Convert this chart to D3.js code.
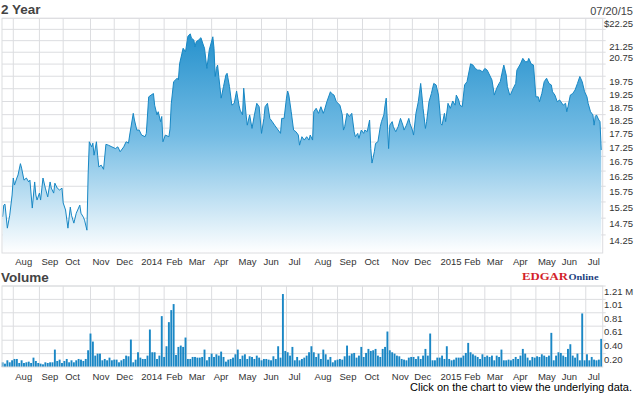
<!DOCTYPE html>
<html lang="en">

<head>
  <meta charset="UTF-8">
  <title>2 Year</title>
  <script src="https://cdnjs.cloudflare.com/ajax/libs/d3/7.8.5/d3.min.js"></script>
  <style>
    body { margin: 0; background: #fff; }
    svg { display: block; font-family: "Liberation Sans", Arial, sans-serif; }
  </style>
</head>

<body>
  <svg width="635" height="395"></svg>
  <script>
    // [trading session, close]
    var priceData = [
      [0, 14.79], [1, 15.15], [2, 15.18], [4, 14.45], [6, 14.84], [8, 15.47], [9, 16.02], [10, 15.79], [12, 16.02], [13, 16.12],
      [15, 16.50], [16, 16.35], [18, 15.95], [20, 16.02], [22, 15.89], [23, 15.95], [25, 15.06], [27, 15.89], [28, 15.47], [29, 15.31],
      [31, 15.53], [32, 15.31], [34, 16.02], [36, 15.69], [38, 15.41], [40, 15.89], [41, 15.69], [43, 15.53], [44, 15.85], [46, 15.69],
      [48, 15.63], [50, 15.69], [51, 15.22], [53, 15.00], [55, 14.45], [57, 15.09], [58, 14.84], [60, 14.60], [62, 14.90], [65, 15.15],
      [66, 14.90], [68, 14.78], [69, 14.69], [71, 14.39], [72, 16.12], [73, 17.26], [75, 17.08], [76, 17.21], [77, 16.79], [79, 17.26],
      [80, 16.79], [81, 16.39], [83, 16.45], [85, 16.31], [87, 17.17], [89, 17.14], [92, 17.08], [95, 17.02], [97, 17.08], [98, 17.00],
      [99, 16.91], [102, 17.08], [104, 17.26], [106, 17.21], [107, 17.50], [110, 18.30], [111, 18.05], [113, 17.68], [115, 17.68], [117, 17.50],
      [120, 17.44], [121, 17.56], [123, 18.93], [125, 19.00], [127, 19.06], [128, 18.61], [130, 18.24], [131, 18.36], [133, 17.99], [134, 18.18],
      [135, 17.26], [137, 17.50], [140, 17.44], [141, 17.74], [142, 18.66], [144, 19.53], [147, 19.67], [148, 19.60], [149, 20.26], [152, 20.92],
      [154, 20.77], [156, 21.44], [158, 21.55], [159, 21.36], [161, 21.28], [162, 20.98], [163, 21.20], [165, 21.28], [167, 21.38], [169, 21.06],
      [170, 20.92], [172, 20.07], [174, 20.85], [177, 21.42], [178, 20.92], [179, 19.74], [180, 20.07], [181, 20.21], [182, 19.74], [184, 18.88],
      [186, 19.34], [188, 19.80], [189, 19.87], [191, 19.34], [193, 18.61], [195, 18.68], [197, 19.16], [199, 18.61], [200, 18.42], [202, 18.24],
      [203, 19.27], [205, 18.24], [206, 17.86], [208, 18.24], [210, 17.74], [212, 18.24], [214, 18.68], [216, 18.55], [218, 17.56], [220, 18.11],
      [221, 18.55], [223, 18.68], [225, 18.11], [227, 17.99], [229, 17.86], [231, 17.74], [234, 17.56], [235, 18.11], [237, 18.11], [239, 18.88],
      [240, 19.16], [241, 19.00], [243, 18.36], [245, 17.68], [247, 17.62], [249, 17.50], [250, 17.14], [252, 17.44], [254, 17.32], [256, 17.44],
      [258, 17.32], [259, 17.50], [261, 17.32], [262, 18.36], [264, 18.49], [266, 18.30], [268, 18.55], [270, 18.30], [271, 18.42], [273, 18.74],
      [276, 19.13], [277, 19.06], [279, 19.00], [281, 18.74], [284, 18.61], [286, 18.24], [287, 17.68], [288, 17.80], [290, 18.30], [292, 18.18],
      [294, 18.30], [296, 17.62], [297, 17.44], [299, 17.56], [300, 17.38], [302, 17.68], [304, 17.56], [305, 17.68], [307, 17.62], [309, 18.05],
      [310, 17.02], [311, 16.52], [313, 16.91], [314, 17.20], [316, 17.26], [318, 17.80], [319, 17.99], [321, 18.24], [322, 18.61], [323, 18.88],
      [325, 17.02], [326, 17.86], [328, 17.99], [329, 17.80], [331, 17.62], [333, 17.80], [335, 18.11], [337, 17.86], [338, 17.68], [340, 17.86],
      [342, 18.11], [343, 17.92], [345, 17.68], [346, 17.50], [348, 18.30], [350, 18.74], [352, 19.46], [353, 19.00], [354, 18.49], [356, 17.74],
      [357, 17.99], [359, 18.74], [361, 19.06], [363, 19.46], [365, 19.40], [367, 19.00], [369, 17.92], [370, 17.86], [372, 18.30], [373, 17.99],
      [375, 18.68], [377, 18.49], [379, 18.77], [381, 18.61], [382, 19.00], [384, 18.81], [385, 18.61], [387, 18.55], [389, 19.40], [391, 19.53],
      [394, 20.26], [396, 20.21], [398, 20.07], [400, 20.00], [402, 20.00], [404, 19.93], [406, 20.07], [408, 20.00], [410, 19.80], [412, 19.60],
      [414, 19.00], [416, 19.27], [418, 19.46], [419, 19.53], [421, 20.00], [422, 20.21], [424, 19.80], [425, 19.34], [427, 19.00], [428, 19.06],
      [430, 19.27], [432, 19.46], [433, 20.00], [436, 20.26], [438, 20.49], [440, 20.35], [442, 20.35], [443, 20.49], [445, 20.26], [447, 20.21],
      [449, 18.93], [451, 18.93], [452, 18.74], [454, 19.06], [456, 19.53], [458, 19.67], [460, 19.46], [462, 19.40], [463, 19.13], [465, 19.00],
      [467, 18.74], [469, 18.81], [472, 18.61], [474, 18.68], [475, 18.36], [476, 18.55], [478, 19.00], [480, 19.06], [482, 19.20], [484, 19.46],
      [486, 19.74], [488, 19.53], [490, 19.13], [492, 18.93], [493, 18.68], [495, 18.36], [497, 18.24], [498, 17.86], [499, 18.18], [500, 18.24],
      [502, 18.05], [503, 17.99], [504, 16.97]
    ]

    // volume in millions, one bar per two sessions (session 0, 2, 4 ...)
    var volumeData = [
      0.07, 0.05, 0.10, 0.07, 0.10, 0.12, 0.12, 0.06, 0.10, 0.06,
      0.07, 0.08, 0.06, 0.14, 0.09, 0.06, 0.05, 0.04, 0.07, 0.06,
      0.07, 0.07, 0.26, 0.09, 0.11, 0.06, 0.09, 0.12, 0.07, 0.10,
      0.07, 0.10, 0.12, 0.11, 0.09, 0.12, 0.25, 0.50, 0.38, 0.17,
      0.20, 0.20, 0.10, 0.12, 0.10, 0.14, 0.10, 0.11, 0.11, 0.07,
      0.10, 0.12, 0.17, 0.16, 0.41, 0.07, 0.11, 0.22, 0.14, 0.12,
      0.12, 0.17, 0.56, 0.22, 0.22, 0.12, 0.17, 0.76, 0.15, 0.31,
      0.67, 0.85, 0.94, 0.18, 0.30, 0.32, 0.30, 0.44, 0.12, 0.12,
      0.15, 0.15, 0.14, 0.14, 0.15, 0.26, 0.10, 0.15, 0.20, 0.15,
      0.19, 0.17, 0.23, 0.15, 0.08, 0.11, 0.12, 0.14, 0.19, 0.26,
      0.12, 0.17, 0.19, 0.12, 0.16, 0.15, 0.12, 0.17, 0.14, 0.10,
      0.12, 0.12, 0.11, 0.10, 0.16, 0.12, 0.31, 0.14, 1.09, 0.24,
      0.22, 0.17, 0.30, 0.10, 0.15, 0.10, 0.12, 0.14, 0.17, 0.22,
      0.31, 0.22, 0.15, 0.20, 0.12, 0.26, 0.19, 0.11, 0.15, 0.07,
      0.10, 0.11, 0.12, 0.11, 0.16, 0.32, 0.17, 0.20, 0.21, 0.14,
      0.17, 0.30, 0.15, 0.21, 0.27, 0.24, 0.25, 0.27, 0.17, 0.15,
      0.27, 0.30, 0.53, 0.25, 0.22, 0.20, 0.17, 0.16, 0.12, 0.11,
      0.10, 0.14, 0.15, 0.15, 0.12, 0.16, 0.12, 0.17, 0.27, 0.17,
      0.50, 0.10, 0.10, 0.14, 0.14, 0.17, 0.12, 0.31, 0.12, 0.10,
      0.11, 0.14, 0.14, 0.14, 0.17, 0.21, 0.36, 0.22, 0.19, 0.17,
      0.15, 0.12, 0.19, 0.15, 0.17, 0.15, 0.17, 0.10, 0.17, 0.15,
      0.26, 0.10, 0.10, 0.11, 0.10, 0.12, 0.15, 0.12, 0.17, 0.27,
      0.20, 0.14, 0.10, 0.15, 0.14, 0.16, 0.15, 0.19, 0.17, 0.15,
      0.17, 0.51, 0.10, 0.17, 0.22, 0.21, 0.17, 0.15, 0.27, 0.34,
      0.17, 0.14, 0.20, 0.10, 0.80, 0.10, 0.19, 0.10, 0.15, 0.11,
      0.10, 0.11, 0.42
    ]

    var monthLabels = ['Aug', 'Sep', 'Oct', 'Nov', 'Dec', '2014', 'Feb', 'Mar', 'Apr', 'May', 'Jun', 'Jul',
      'Aug', 'Sep', 'Oct', 'Nov', 'Dec', '2015', 'Feb', 'Mar', 'Apr', 'May', 'Jun', 'Jul']
    // session index of the first trading day of each month
    var monthStarts = [9, 31, 51, 74, 94, 115, 136, 155, 176, 197, 218, 239,
      261, 282, 303, 326, 345, 367, 387, 406, 428, 449, 469, 491]

    var priceGrid = [14.25, 14.75, 15.25, 15.75, 16.25, 16.75, 17.25, 17.75, 18.25, 18.75,
      19.25, 19.75, 20.25, 20.75, 21.25, 21.75, 22.25]
    var priceTickValues = [22.25, 21.25, 20.75, 19.75, 19.25, 18.75, 18.25, 17.75, 17.25, 16.75, 16.25, 15.75, 15.25, 14.75, 14.25]
    var priceTickLabels = ['$22.25', '21.25', '20.75', '19.75', '19.25', '18.75', '18.25', '17.75', '17.25', '16.75', '16.25', '15.75', '15.25', '14.75', '14.25']

    var volTickValues = [1.21, 1.01, 0.81, 0.61, 0.40, 0.20]
    var volTickLabels = ['1.21 M', '1.01', '0.81', '0.61', '0.40', '0.20']

    var svg = d3.select('svg')

    var left = 2, right = 602.7
    var pTop = 18.3, pBottom = 253
    var vTop = 286, vBottom = 367
    var gridColor = '#dcdde0'
    var textColor = '#333'

    var x = d3.scaleLinear().domain([0, 505]).range([2.6, 602.4])
    var y = d3.scaleLog().domain([13.73, 22.25]).range([pBottom, pTop])
    var yv = d3.scaleLinear().domain([0, 1.21]).range([vBottom, vTop])

    var defs = svg.append('defs')
    var grad = defs.append('linearGradient')
      .attr('id', 'priceFill')
      .attr('gradientUnits', 'userSpaceOnUse')
      .attr('x1', 0).attr('y1', pTop)
      .attr('x2', 0).attr('y2', pBottom)
    grad.append('stop').attr('offset', '0%').attr('stop-color', '#1a8bc9')
    grad.append('stop').attr('offset', '50%').attr('stop-color', '#74bce4')
    grad.append('stop').attr('offset', '100%').attr('stop-color', '#ffffff')

    // titles
    svg.append('text')
      .attr('x', 1).attr('y', 14)
      .attr('font-size', 13.5).attr('font-weight', 'bold')
      .attr('fill', '#444')
      .text('2 Year')
    svg.append('text')
      .attr('x', 633).attr('y', 15)
      .attr('text-anchor', 'end')
      .attr('font-size', 11).attr('fill', '#444')
      .text('07/20/15')
    svg.append('text')
      .attr('x', 1).attr('y', 282)
      .attr('font-size', 13.5).attr('font-weight', 'bold')
      .attr('fill', '#444')
      .text('Volume')

    function monthGrid(top, bottom, labelY) {
      var g = svg.append('g')
      g.selectAll('line')
        .data(monthStarts)
        .enter()
        .append('line')
        .attr('x1', d => x(d)).attr('x2', d => x(d))
        .attr('y1', top).attr('y2', bottom)
        .attr('stroke', gridColor)
      g.selectAll('text')
        .data(monthStarts)
        .enter()
        .append('text')
        .attr('x', d => x(d) + 2)
        .attr('y', labelY)
        .attr('font-size', 9.5)
        .attr('fill', textColor)
        .text((d, i) => monthLabels[i])
    }

    // ---- price panel
    monthGrid(pTop, pBottom, 265)
    svg.append('g')
      .selectAll('line')
      .data(priceGrid)
      .enter()
      .append('line')
      .attr('x1', left).attr('x2', right + 3)
      .attr('y1', d => y(d)).attr('y2', d => y(d))
      .attr('stroke', gridColor)

    var area = d3.area()
      .x(d => x(d[0]))
      .y0(pBottom)
      .y1(d => y(d[1]))
    var line = d3.line()
      .x(d => x(d[0]))
      .y(d => y(d[1]))

    svg.append('path')
      .datum(priceData)
      .attr('d', area)
      .attr('fill', 'url(#priceFill)')
    svg.append('path')
      .datum(priceData)
      .attr('d', line)
      .attr('fill', 'none')
      .attr('stroke', '#1787c4')
      .attr('stroke-width', 1)

    svg.append('rect')
      .attr('x', left).attr('y', pTop)
      .attr('width', right - left).attr('height', pBottom - pTop)
      .attr('fill', 'none')
      .attr('stroke', gridColor)

    svg.append('g')
      .selectAll('text')
      .data(priceTickValues)
      .enter()
      .append('text')
      .attr('x', 633)
      .attr('y', d => y(d) + 9)
      .attr('text-anchor', 'end')
      .attr('font-size', 9.5)
      .attr('fill', textColor)
      .text((d, i) => priceTickLabels[i])

    // ---- volume panel
    monthGrid(vTop, vBottom, 380)
    svg.append('g')
      .selectAll('line')
      .data(volTickValues)
      .enter()
      .append('line')
      .attr('x1', left).attr('x2', right + 3)
      .attr('y1', d => yv(d)).attr('y2', d => yv(d))
      .attr('stroke', gridColor)

    svg.append('g')
      .selectAll('rect')
      .data(volumeData)
      .enter()
      .append('rect')
      .attr('x', (d, i) => x(i * 2) - 0.95)
      .attr('width', 1.9)
      .attr('y', d => yv(d))
      .attr('height', d => vBottom - yv(d))
      .attr('fill', '#1a87c5')

    svg.append('rect')
      .attr('x', left).attr('y', vTop)
      .attr('width', right - left).attr('height', vBottom - vTop)
      .attr('fill', 'none')
      .attr('stroke', gridColor)

    svg.append('g')
      .selectAll('text')
      .data(volTickValues)
      .enter()
      .append('text')
      .attr('x', 604)
      .attr('y', d => yv(d) + 9)
      .attr('font-size', 9.5)
      .attr('fill', textColor)
      .text((d, i) => volTickLabels[i])

    // logo
    svg.append('text')
      .attr('x', 522).attr('y', 280)
      .attr('font-family', '"Liberation Serif", "Times New Roman", serif')
      .attr('font-weight', 'bold')
      .attr('font-size', 10.5)
      .attr('textLength', 46).attr('lengthAdjust', 'spacingAndGlyphs')
      .attr('fill', '#d31f2b')
      .text('EDGAR')
    svg.append('text')
      .attr('x', 568.5).attr('y', 280)
      .attr('font-family', '"Liberation Serif", "Times New Roman", serif')
      .attr('font-weight', 'bold')
      .attr('font-size', 8)
      .attr('textLength', 30).attr('lengthAdjust', 'spacingAndGlyphs')
      .attr('fill', '#1c3f7e')
      .text('Online')

    svg.append('text')
      .attr('x', 632).attr('y', 391)
      .attr('text-anchor', 'end')
      .attr('font-size', 11)
      .attr('fill', '#000')
      .text('Click on the chart to view the underlying data.')
  </script>
</body>

</html>
